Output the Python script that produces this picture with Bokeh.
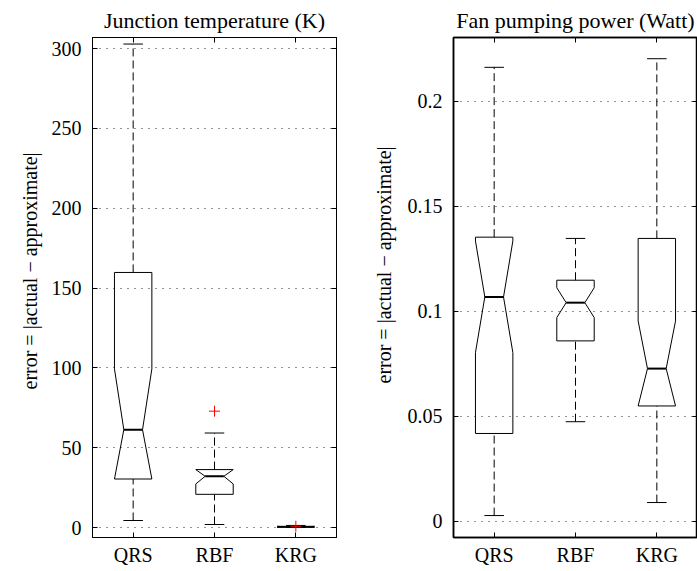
import math
from bokeh.plotting import figure
from bokeh.layouts import row
from bokeh.models import FixedTicker, LinearAxis, Range1d, Title, CustomJSTickFormatter
from bokeh.embed import file_html
from bokeh.resources import INLINE

# ---------------- data ----------------
methods = ["QRS", "RBF", "KRG"]

# Junction temperature (K)
jt_q1 = [30.4, 20.8, 0.15]
jt_med = [61.3, 32.1, 0.4]
jt_q3 = [159.8, 36.3, 0.75]
jt_notch_lo = [30.4, 27.3, 0.15]
jt_notch_hi = [99.4, 36.3, 0.75]
jt_wlo = [4.4, 1.9, 0.0]
jt_whi = [302.9, 59.2, 1.3]
jt_out_cat = [2, 3]
jt_out_val = [72.9, 0.8]
jt_ticks = [0, 50, 100, 150, 200, 250, 300]
jt_tick_labels = ["0", "50", "100", "150", "200", "250", "300"]

# Fan pumping power (Watt)
fp_q1 = [0.0418, 0.0859, 0.0549]
fp_med = [0.1068, 0.1041, 0.0727]
fp_q3 = [0.1353, 0.1148, 0.1347]
fp_notch_lo = [0.0803, 0.0970, 0.0549]
fp_notch_hi = [0.1335, 0.1112, 0.0954]
fp_wlo = [0.0027, 0.0474, 0.0089]
fp_whi = [0.2162, 0.1347, 0.2203]
fp_out_cat = []
fp_out_val = []
fp_ticks = [0, 0.05, 0.1, 0.15, 0.2]
fp_tick_labels = ["0", "0.05", "0.1", "0.15", "0.2"]

YLABEL = "error = |actual \u2212 approximate|"
FONT = "Liberation Serif"
BW = 0.23     # box half width
NW = 0.115    # notch inner half width
CW = 0.12     # cap half width


def panel(title, q1, med, q3, nlo, nhi, wlo, whi, ocat, oval, ticks, tlabels,
          yr, width, mb_left, mb_right, mb_top, mb_bottom, lw, ylab_offset, ylab_standoff,
          title_standoff):
    p = figure(width=width, height=571, x_range=Range1d(0.5, 3.5), y_range=Range1d(*yr),
               output_backend="svg", toolbar_location=None,
               min_border_left=mb_left, min_border_right=mb_right,
               min_border_top=mb_top, min_border_bottom=mb_bottom)
    p.background_fill_color = "white"
    p.border_fill_color = "white"
    p.outline_line_color = "black"
    p.outline_line_width = lw

    p.title.text = title
    p.title.text_font = FONT
    p.title.text_font_size = "22px"
    p.title.text_font_style = "normal"
    p.title.align = "center"
    p.title.text_color = "black"
    p.title.standoff = title_standoff

    cats = [1, 2, 3]
    xtick = FixedTicker(ticks=cats)
    ytick = FixedTicker(ticks=ticks)

    p.xgrid.visible = False
    p.ygrid.ticker = ytick
    p.ygrid.grid_line_color = "black"
    p.ygrid.grid_line_alpha = 0.85
    p.ygrid.grid_line_dash = "1 6"
    p.ygrid.grid_line_width = 1

    for ax in (p.xaxis[0], p.yaxis[0]):
        ax.major_tick_in = 5
        ax.major_tick_out = 0
        ax.minor_tick_line_color = None
        ax.axis_line_color = "black"
        ax.axis_line_width = lw
        ax.major_tick_line_color = "black"
        ax.major_label_text_font = FONT
        ax.major_label_text_font_size = "20px"
        ax.major_label_text_color = "black"
    p.xaxis.ticker = xtick
    p.xaxis.major_label_overrides = {c: m for c, m in zip(cats, methods)}
    p.xaxis.major_label_standoff = 6
    p.yaxis.ticker = ytick
    p.yaxis.major_label_overrides = {t: l for t, l in zip(ticks, tlabels)}
    p.yaxis.major_label_standoff = 11

    blank = CustomJSTickFormatter(code="return ''")
    top = LinearAxis(ticker=xtick, formatter=blank, major_tick_in=5, major_tick_out=0,
                     minor_tick_line_color=None, axis_line_color="black", axis_line_width=lw,
                     major_label_text_font_size="1px", major_label_standoff=0)
    right = LinearAxis(ticker=ytick, formatter=blank, major_tick_in=5, major_tick_out=0,
                       minor_tick_line_color=None, axis_line_color="black", axis_line_width=lw,
                       major_label_text_font_size="1px", major_label_standoff=0)
    p.add_layout(top, "above")
    p.add_layout(right, "right")

    ylab = Title(text=YLABEL, text_font=FONT, text_font_size="20px", text_font_style="normal",
                 text_color="black", align="left", offset=ylab_offset, standoff=ylab_standoff)
    p.add_layout(ylab, "left")

    # whiskers
    p.segment(x0=cats, y0=q3, x1=cats, y1=whi, line_color="black", line_width=1, line_dash="8 4")
    p.segment(x0=cats, y0=wlo, x1=cats, y1=q1, line_color="black", line_width=1, line_dash="8 4")
    p.segment(x0=[c - CW for c in cats], y0=whi, x1=[c + CW for c in cats], y1=whi,
              line_color="black", line_width=1)
    p.segment(x0=[c - CW for c in cats], y0=wlo, x1=[c + CW for c in cats], y1=wlo,
              line_color="black", line_width=1)

    # notched boxes
    xs, ys = [], []
    for c, a, lo, m, hi, b in zip(cats, q1, nlo, med, nhi, q3):
        xs.append([c - BW, c - BW, c - NW, c - BW, c - BW, c + BW, c + BW, c + NW, c + BW, c + BW])
        ys.append([a, lo, m, hi, b, b, hi, m, lo, a])
    p.patches(xs=xs, ys=ys, fill_color=None, line_color="black", line_width=1)
    p.segment(x0=[c - NW for c in cats], y0=med, x1=[c + NW for c in cats], y1=med,
              line_color="black", line_width=2)

    if ocat:
        p.scatter(x=ocat, y=oval, marker="cross", size=11, line_color="red", line_width=1)
    return p


p1 = panel("Junction temperature (K)", jt_q1, jt_med, jt_q3, jt_notch_lo, jt_notch_hi,
           jt_wlo, jt_whi, jt_out_cat, jt_out_val, jt_ticks, jt_tick_labels,
           (-6.25, 307.0), 346, 92, 10, 37, 33, 1, 148, 16, 10)
p2 = panel("Fan pumping power (Watt)", fp_q1, fp_med, fp_q3, fp_notch_lo, fp_notch_hi,
           fp_wlo, fp_whi, fp_out_cat, fp_out_val, fp_ticks, fp_tick_labels,
           (-0.00775, 0.2304), 351, 107, 0, 36, 34, 1.5, 154, 19, 9)

layout = row(p1, p2)
open("out.html", "w").write(file_html(layout, INLINE))
